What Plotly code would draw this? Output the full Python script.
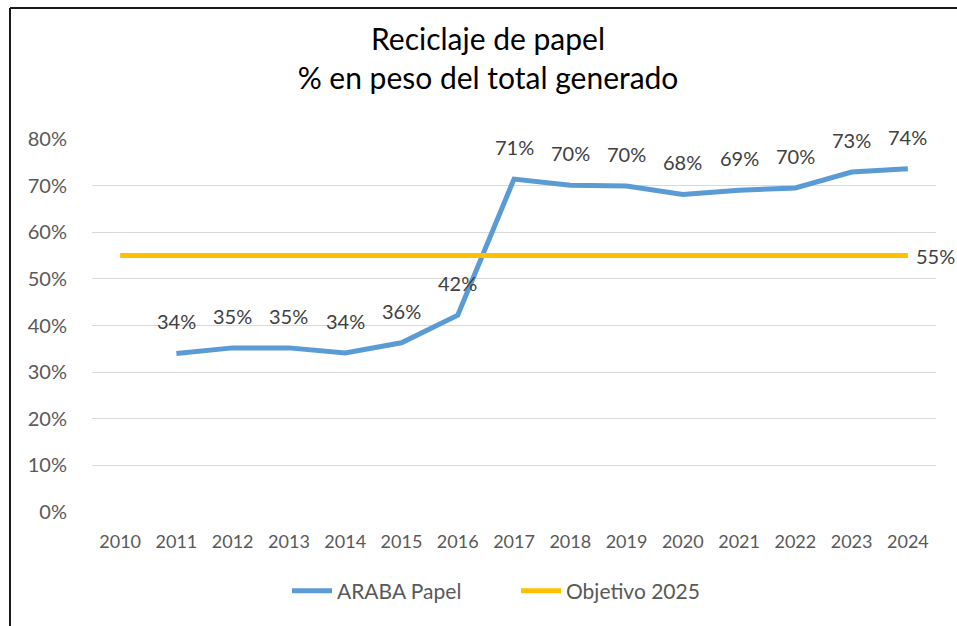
import plotly.graph_objects as go

years = [str(y) for y in range(2010, 2025)]
araba_years = [str(y) for y in range(2011, 2025)]
araba_values = [0.340, 0.352, 0.352, 0.341, 0.363, 0.422, 0.714, 0.701, 0.699, 0.681, 0.690, 0.695, 0.729, 0.736]
araba_labels = ["34%", "35%", "35%", "34%", "36%", "42%", "71%", "70%", "70%", "68%", "69%", "70%", "73%", "74%"]
objetivo_values = [0.55] * 15
objetivo_label = "55%"
y_ticks = [0, 0.1, 0.2, 0.3, 0.4, 0.5, 0.6, 0.7, 0.8]
y_tick_labels = ["0%", "10%", "20%", "30%", "40%", "50%", "60%", "70%", "80%"]

FONT = "Lato"

fig = go.Figure()
fig.add_trace(go.Scatter(
    x=araba_years, y=araba_values, name="ARABA Papel",
    mode="lines", line=dict(color="#5b9bd5", width=5),
))
fig.add_trace(go.Scatter(
    x=years, y=objetivo_values, name="Objetivo 2025",
    mode="lines", line=dict(color="#ffc000", width=5),
))

annotations = []
for yr, v, lab in zip(araba_years, araba_values, araba_labels):
    annotations.append(dict(
        x=years.index(yr), y=v, xref="x", yref="y", text=lab, showarrow=False,
        yshift=32, font=dict(family=FONT, size=20, color="#404040"),
    ))
annotations.append(dict(
    x=len(years) - 1, y=objetivo_values[-1], xref="x", yref="y", text=objetivo_label,
    showarrow=False, xanchor="left", xshift=6,
    font=dict(family=FONT, size=20, color="#404040"),
))

L, R, T, B = 92, 21, 139, 114
W, H = 957, 626
pw, ph = W - L - R, H - T - B

def px(x):
    return (x - L) / pw

def py(y):
    return (H - B - y) / ph

fig.update_layout(
    width=W, height=H,
    margin=dict(l=L, r=R, t=T, b=B, autoexpand=False),
    paper_bgcolor="white", plot_bgcolor="white",
    font=dict(family=FONT, color="#595959"),
    title=dict(
        text="Reciclaje de papel<br>% en peso del total generado",
        x=488 / W, xanchor="center", xref="container",
        y=1 - 50 / H, yanchor="top",
        font=dict(family=FONT, size=30, color="#000000"),
    ),
    showlegend=True,
    legend=dict(
        orientation="h", x=px(287), xanchor="left", y=py(591), yanchor="middle",
        font=dict(family=FONT, size=21, color="#595959"),
        bgcolor="rgba(0,0,0,0)", itemwidth=40, entrywidth=174,
    ),
    xaxis=dict(
        type="category", categoryorder="array", categoryarray=years,
        range=[-0.5, 14.5], showgrid=False, showline=False, zeroline=False,
        ticks="", ticklabelstandoff=17,
        tickfont=dict(family=FONT, size=18, color="#595959"),
        automargin=False,
    ),
    yaxis=dict(
        range=[0, 0.8], tickvals=y_ticks, ticktext=y_tick_labels,
        showgrid=True, gridcolor="#d9d9d9", gridwidth=1, zeroline=False,
        showline=False, ticks="", ticklabelstandoff=24,
        tickfont=dict(family=FONT, size=20, color="#595959"),
        automargin=False,
    ),
    annotations=annotations,
    shapes=[
        dict(type="line", xref="paper", yref="paper",
             x0=px(10), x1=px(10), y0=py(640), y1=py(8),
             line=dict(color="#1a1a1a", width=2)),
        dict(type="line", xref="paper", yref="paper",
             x0=px(10), x1=px(960), y0=py(8), y1=py(8),
             line=dict(color="#1a1a1a", width=2)),
    ],
)

fig.write_html(
    "out.html",
    config={"displayModeBar": False},
    post_script="document.body.style.margin='0';document.body.style.overflow='hidden';",
)
